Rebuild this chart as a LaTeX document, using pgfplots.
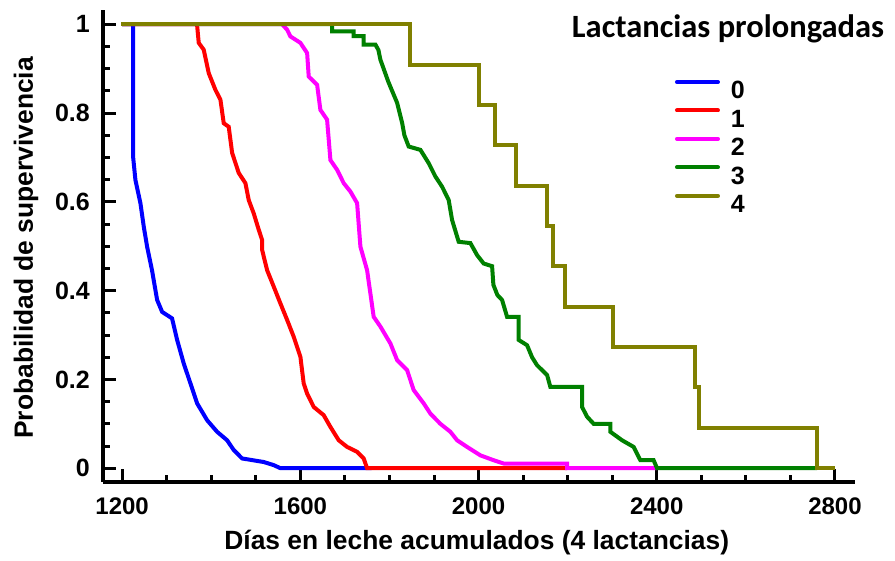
\documentclass[border=0pt]{standalone}
\usepackage{fontspec}
\setmainfont{Liberation Sans}
\newfontfamily\carlito{Carlito}
\usepackage{pgfplots}
\pgfplotsset{compat=1.18}
\definecolor{cblue}{RGB}{0,0,255}
\definecolor{cred}{RGB}{255,0,0}
\definecolor{cmag}{RGB}{255,0,255}
\definecolor{cgreen}{RGB}{0,128,0}
\definecolor{colive}{RGB}{128,128,0}
\begin{document}
\begin{tikzpicture}
\path[use as bounding box] (-103pt,-79pt) rectangle (792pt,482pt);
\begin{axis}[
  at={(0pt,0pt)}, anchor=south west,
  scale only axis, width=752pt, height=472pt,
  xmin=1157, xmax=2845, ymin=-0.031, ymax=1.032,
  axis lines=left,
  axis line style={line width=4pt,-},
  tick align=inside,
  major tick length=13pt, minor tick length=7pt,
  every tick/.style={black, line width=3pt},
  xtick={1200,1600,2000,2400,2800},
  ytick={0,0.2,0.4,0.6,0.8,1},
  minor x tick num=3, minor y tick num=3,
  scaled ticks=false,
  /pgf/number format/1000 sep={},
  /pgf/number format/assume math mode=true,
  xticklabel style={font=\fontsize{24}{24}\selectfont\bfseries, inner sep=0pt, anchor=north, yshift=-16pt},
  yticklabel style={font=\fontsize{25}{25}\selectfont\bfseries, inner sep=0pt, anchor=east, xshift=-13pt},
  xlabel={Días en leche acumulados (4 lactancias)},
  ylabel={Probabilidad de supervivencia},
  xlabel style={font=\fontsize{26.4}{26.4}\selectfont\bfseries, at={(axis description cs:0.497,-0.1426)}, anchor=base, inner sep=0pt},
  ylabel style={font=\fontsize{26.4}{26.4}\selectfont\bfseries, at={(axis description cs:-0.0931,0.496)}, anchor=base, inner sep=0pt},
  clip=false,
  legend cell align=left,
  legend image code/.code={\draw[#1, line width=4pt, line cap=round] (2pt,9pt) -- (43pt,9pt);},
  legend style={draw=none, fill=none, inner sep=0pt, outer sep=0pt,
    at={(axis description cs:0.7606,0.8517)}, anchor=north west,
    font=\fontsize{25}{25}\selectfont\bfseries, row sep=8pt,
    nodes={inner sep=0pt},
    /tikz/every odd column/.append style={column sep=11pt}},
  every axis plot/.append style={line width=4pt},
]
% 0
\addplot[cblue, sharp plot] coordinates {
(1200,1) (1224.7,1) (1224.7,0.70) (1229.8,0.649) (1241,0.597) (1248.5,0.544)
(1256,0.499) (1267,0.446) (1278.5,0.379) (1289.8,0.352) (1312,0.3375)
(1323.4,0.289) (1338.2,0.236) (1353.3,0.191) (1368.3,0.146) (1390.8,0.108)
(1413.2,0.082) (1435.6,0.063) (1450.4,0.041) (1469.3,0.022) (1517.8,0.014)
(1540.2,0.007) (1555.3,0) (1760,0)};
\addlegendentry{0}
% 1
\addplot[cred, sharp plot] coordinates {
(1200,1) (1368,1) (1371.9,0.958) (1383.1,0.9425) (1394.3,0.89) (1409.4,0.852)
(1420.6,0.83) (1428,0.777) (1439.2,0.769) (1446.9,0.71) (1461.7,0.665)
(1476.7,0.642) (1484.1,0.604) (1495.3,0.574) (1506.6,0.537) (1514.2,0.514)
(1514.2,0.4916) (1525.4,0.446) (1540.2,0.409) (1555.3,0.371) (1570.3,0.334)
(1585.1,0.296) (1600.1,0.251) (1607.5,0.191) (1615.2,0.168) (1630,0.138)
(1652.4,0.1195) (1667.5,0.093) (1686.1,0.063) (1704.9,0.048) (1727.4,0.037)
(1742.2,0.022) (1749.8,0) (2199,0)};
\addlegendentry{1}
% 2
\addplot[cmag, sharp plot] coordinates {
(1200,1) (1559,1) (1570.3,0.9876) (1577.7,0.9725) (1600.1,0.958) (1615.2,0.935)
(1618.8,0.882) (1637.6,0.8636) (1645,0.807) (1660,0.785) (1667.5,0.694)
(1682.5,0.672) (1697.3,0.642) (1712.4,0.623) (1727.4,0.597) (1734.8,0.499)
(1749.8,0.446) (1764.6,0.341) (1779.7,0.319) (1802.1,0.281) (1817.2,0.2435)
(1839.6,0.221) (1854.4,0.176) (1876.9,0.146) (1891.9,0.123) (1914.3,0.1)
(1936.8,0.082) (1951.8,0.063) (1974.2,0.048) (2004.1,0.029) (2033.9,0.018)
(2056.4,0.0106) (2198.7,0.0106) (2198.7,0) (2400,0)};
\addlegendentry{2}
% 3
\addplot[cgreen, sharp plot] coordinates {
(1200,1) (1671.3,1) (1671.3,0.984) (1719.8,0.984) (1719.8,0.973) (1742.2,0.973)
(1742.2,0.954) (1768.5,0.954) (1775.2,0.942) (1779.7,0.92) (1797.6,0.87)
(1805.9,0.85) (1817.2,0.823) (1828.4,0.778) (1833.5,0.75) (1843.2,0.7245)
(1869.5,0.717) (1888.1,0.687) (1903.1,0.657) (1918.2,0.634) (1933,0.604)
(1940.6,0.559) (1955.4,0.51) (1981.7,0.507) (1996.7,0.48) (2011.5,0.461)
(2030.4,0.455) (2033.3,0.413) (2042.3,0.39) (2052.8,0.379) (2064,0.341)
(2090,0.341) (2090,0.289) (2108.9,0.277) (2120.1,0.25) (2131.3,0.232)
(2153.8,0.21) (2161.2,0.183) (2232.3,0.183) (2232.3,0.138) (2243.6,0.116)
(2258.4,0.1) (2295.9,0.1) (2295.9,0.082) (2322.1,0.063) (2348.1,0.048)
(2363.2,0.018) (2393,0.018) (2400.6,0) (2760,0)};
\addlegendentry{3}
% 4
\addplot[colive, const plot] coordinates {
(1198,1) (1847,0.909) (2000,0.818) (2038,0.727) (2083,0.636) (2154,0.545)
(2168,0.455) (2195,0.364) (2302,0.273) (2486,0.182) (2494,0.091) (2760,0)
(2801,0)};
\addlegendentry{4}
\end{axis}
\node[anchor=base, font=\carlito\bfseries\fontsize{32.5}{32.5}\selectfont, inner sep=0pt] at (625pt,444pt) {Lactancias prolongadas};
\end{tikzpicture}
\end{document}
